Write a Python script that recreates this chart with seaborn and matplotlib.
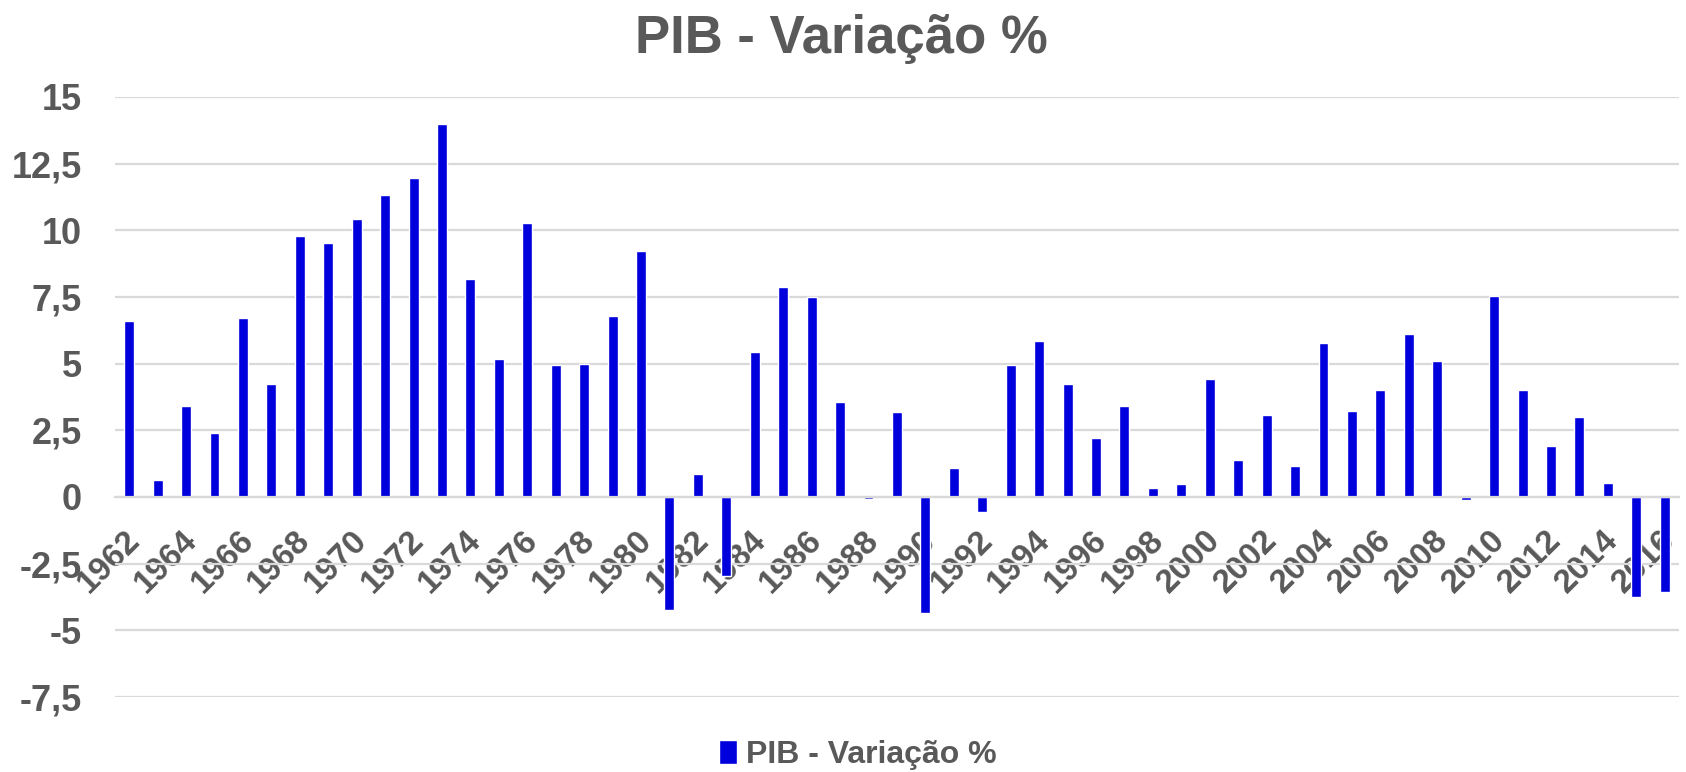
import pandas as pd
import matplotlib.pyplot as plt
import matplotlib.transforms as mtrans
import seaborn as sns

# Data
years = list(range(1962, 2017))
pib_var = [6.61, 0.64, 3.41, 2.41, 6.72, 4.22, 9.80, 9.51, 10.41, 11.32,
           11.95, 13.97, 8.16, 5.19, 10.27, 4.95, 5.00, 6.78, 9.21, -4.24,
           0.86, -2.96, 5.43, 7.87, 7.49, 3.55, -0.07, 3.18, -4.34, 1.07,
           -0.55, 4.95, 5.86, 4.22, 2.21, 3.41, 0.35, 0.47, 4.41, 1.39,
           3.07, 1.16, 5.76, 3.22, 4.00, 6.10, 5.09, -0.13, 7.54, 4.00,
           1.92, 3.00, 0.54, -3.76, -3.57]
y_ticks = [-7.5, -5, -2.5, 0, 2.5, 5, 7.5, 10, 12.5, 15]
y_labels = ['-7,5', '-5', '-2,5', '0', '2,5', '5', '7,5', '10', '12,5', '15']
series_name = 'PIB - Variação %'

df = pd.DataFrame({'ano': [str(y) for y in years], 'pib': pib_var})

sns.set_style('white')
plt.rcParams['font.family'] = ['Liberation Sans', 'DejaVu Sans']
plt.rcParams['font.weight'] = 'bold'
gray = '#595959'
grid_c = '#d9d9d9'

fig = plt.figure(figsize=(16.86, 7.72), dpi=100)
ax = fig.add_axes([0.0682, 0.0972, 0.9276, 0.7772])

sns.barplot(data=df, x='ano', y='pib', color='#0000dd', width=0.35,
            saturation=1, label=series_name, ax=ax)

ax.set_xlim(-0.5, len(years) - 0.5)
ax.set_ylim(-7.5, 15)
ax.set_yticks(y_ticks)
ax.set_yticklabels(y_labels)
ax.yaxis.grid(True, color=grid_c, linewidth=1.6)
ax.set_axisbelow(True)

# category axis crosses at zero, like the spreadsheet
for s in ['top', 'right', 'left']:
    ax.spines[s].set_visible(False)
ax.spines['bottom'].set_position(('data', 0))
ax.spines['bottom'].set_color(grid_c)
ax.spines['bottom'].set_linewidth(1.6)

pos = list(range(0, len(years), 2))
ax.set_xticks(pos)
ax.set_xticklabels([str(years[i]) for i in pos], rotation=45, ha='right',
                   va='top', rotation_mode='anchor')
ax.tick_params(axis='x', length=0, pad=20, labelsize=24, labelcolor=gray)
ax.tick_params(axis='y', length=0, pad=24, labelsize=26, labelcolor=gray)
shift = mtrans.ScaledTranslation(-5 / 100, 0, fig.dpi_scale_trans)
for t in ax.get_xticklabels():
    t.set_transform(t.get_transform() + shift)
for t in ax.get_xticklabels() + ax.get_yticklabels():
    t.set_fontweight('bold')

ax.set_xlabel('')
ax.set_ylabel('')

fig.suptitle(series_name, x=0.499, y=0.982, va='top', fontsize=38,
             fontweight='bold', color=gray)

ax.legend(loc='center', bbox_to_anchor=(0.509, 0.022), bbox_transform=fig.transFigure,
          frameon=False, handlelength=0.55, handleheight=0.8,
          handletextpad=0.3, labelcolor=gray, prop={'weight': 'bold', 'size': 23})

fig.savefig('out.png', dpi=100)
